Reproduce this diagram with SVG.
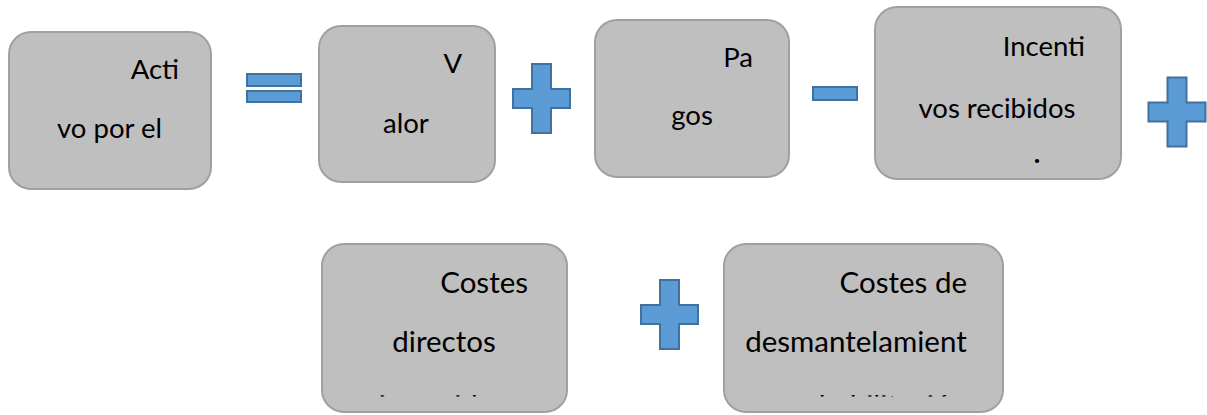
<svg xmlns="http://www.w3.org/2000/svg" width="1207" height="415" viewBox="0 0 1207 415">
<style>
.box{fill:#BFBFBF;stroke:#A0A0A0;stroke-width:2}
.op{fill:#5B9BD5;stroke:#41719C;stroke-width:2}
.t{font-family:Lato,"Liberation Sans",sans-serif;font-size:27.5px;fill:#000}
.b{font-size:29.5px}
.e{text-anchor:end}
.m{text-anchor:middle}
</style>
<defs>
<path id="plus" d="M19,0H38V25H57V44H38V69H19V44H0V25H19Z"/>
<clipPath id="clipLow"><rect x="0" y="0" width="1207" height="396.5"/></clipPath>
</defs>
<rect width="1207" height="415" fill="#fff"/>
<g id="activo">
<rect class="box" x="9" y="32" width="202" height="157" rx="22"/>
<text class="t e" x="179" y="79">Acti</text>
<text class="t m" x="109.5" y="138">vo por el</text>
</g>
<g id="valor">
<rect class="box" x="319" y="26" width="176" height="156" rx="22"/>
<text class="t e" x="462" y="73">V</text>
<text class="t m" x="406" y="133">alor</text>
</g>
<g id="pagos">
<rect class="box" x="595" y="20" width="194" height="157" rx="22"/>
<text class="t e" x="753" y="67">Pa</text>
<text class="t m" x="692" y="125">gos</text>
</g>
<g id="incentivos">
<rect class="box" x="875" y="7" width="246" height="172" rx="22"/>
<text class="t e" x="1085" y="56">Incenti</text>
<text class="t m" x="997" y="118">vos recibidos</text>
<text class="t m" x="1037" y="163" font-weight="bold">.</text>
</g>
<g id="costes-directos">
<rect class="box" x="322" y="244" width="245" height="168" rx="22"/>
<text class="t b e" x="528" y="293">Costes</text>
<text class="t b m" x="444" y="352">directos</text>
<text class="t b m" x="443" y="416" clip-path="url(#clipLow)">incurridos</text>
</g>
<g id="costes-desmantelamiento">
<rect class="box" x="724" y="244" width="279" height="168" rx="22"/>
<text class="t b e" x="967" y="293">Costes de</text>
<text class="t b m" x="856" y="352">desmantelamient</text>
<text class="t b e" x="967" y="416" clip-path="url(#clipLow)">o y rehabilitación</text>
</g>
<g id="operators">
<g id="op-equals">
<rect class="op" x="247" y="74" width="54" height="12"/>
<rect class="op" x="247" y="91" width="54" height="11"/>
</g>
<use id="op-plus-1" href="#plus" class="op" transform="translate(513,64)"/>
<rect id="op-minus" class="op" x="813" y="87" width="44" height="13"/>
<use id="op-plus-2" href="#plus" class="op" transform="translate(1148.5,77.5)"/>
<use id="op-plus-3" href="#plus" class="op" transform="translate(641,280)"/>
</g>
</svg>
